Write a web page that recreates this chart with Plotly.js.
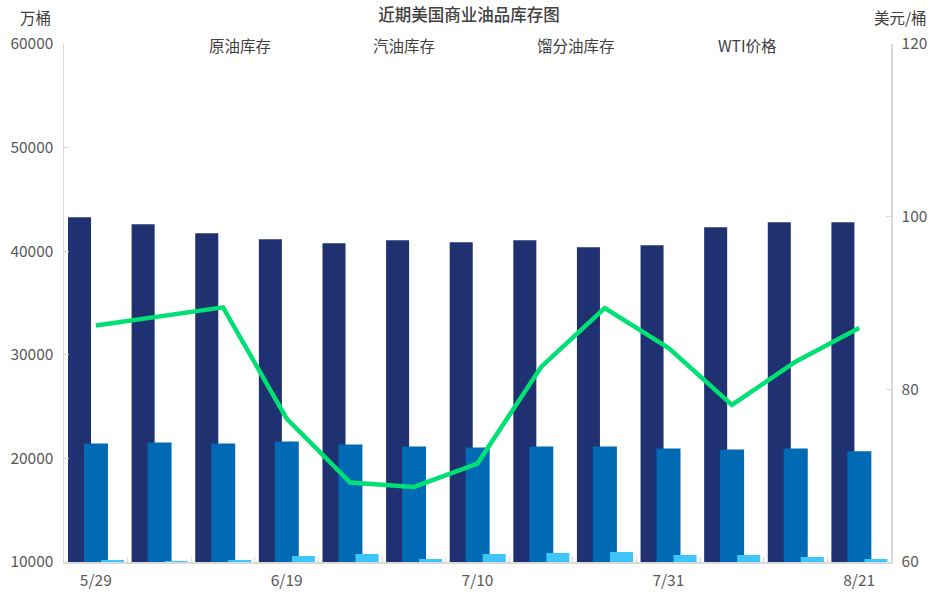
<!DOCTYPE html>
<html>
<head>
<meta charset="utf-8">
<script src="https://cdn.plot.ly/plotly-3.0.1.min.js"></script>
<style>
  html, body { margin: 0; padding: 0; background: #fff; }
  #chart { width: 937px; height: 601px; }
</style>
</head>
<body>
<div id="chart"></div>
<script>
  // weekly dates
  const dates = ['5/29', '6/5', '6/12', '6/19', '6/26', '7/3', '7/10', '7/17', '7/24', '7/31', '8/7', '8/14', '8/21'];
  const dateLabels = ['5/29', '', '', '6/19', '', '', '7/10', '', '', '7/31', '', '', '8/21'];

  // 万桶
  const crude = [43280, 42600, 41740, 41160, 40770, 41060, 40870, 41060, 40390, 40580, 42310, 42800, 42800];
  const gasoline = [21450, 21540, 21450, 21640, 21350, 21160, 21060, 21160, 21160, 20960, 20870, 20960, 20680];
  const distillate = [10190, 10100, 10190, 10580, 10770, 10290, 10770, 10870, 10960, 10680, 10680, 10480, 10290];

  // 美元/桶
  const wti = [87.4, 88.4, 89.5, 76.6, 69.2, 68.7, 71.4, 82.6, 89.4, 84.8, 78.2, 83.2, 87.1];

  const seriesNames = ['原油库存', '汽油库存', '馏分油库存', 'WTI价格'];

  const FONT = '"Noto Sans CJK SC", "Noto Sans", sans-serif';
  const plotL = 64, plotR = 891, plotT = 44, plotB = 562;
  const px = x => (x - plotL) / (plotR - plotL);
  const py = y => (plotB - y) / (plotB - plotT);

  const traces = [
    {type: 'bar', x: dates, y: crude, name: seriesNames[0], offset: -0.437, width: 0.362,
     marker: {color: '#1F3170'}},
    {type: 'bar', x: dates, y: gasoline, name: seriesNames[1], offset: -0.186, width: 0.377,
     marker: {color: '#006BB4'}},
    {type: 'bar', x: dates, y: distillate, name: seriesNames[2], offset: 0.082, width: 0.362,
     marker: {color: '#3EC5FB'}},
    {type: 'scatter', mode: 'lines', x: dates, y: wti, name: seriesNames[3], yaxis: 'y2',
     line: {color: '#00E074', width: 4.5}}
  ];

  const legendX = [240, 404, 576, 747];
  const annotations = seriesNames.map((n, i) => ({
    text: n, xref: 'paper', yref: 'paper', x: px(legendX[i]), y: py(45),
    showarrow: false, xanchor: 'center', yanchor: 'middle',
    font: {family: FONT, size: 15.5, color: '#404040'}
  }));
  annotations.push({text: '万桶', xref: 'paper', yref: 'paper', x: px(35), y: py(17),
    showarrow: false, xanchor: 'center', yanchor: 'middle',
    font: {family: FONT, size: 15.5, color: '#404040'}});
  annotations.push({text: '美元/桶', xref: 'paper', yref: 'paper', x: px(900), y: py(17),
    showarrow: false, xanchor: 'center', yanchor: 'middle',
    font: {family: FONT, size: 15.5, color: '#404040'}});

  const layout = {
    width: 937, height: 601,
    margin: {l: plotL, r: 937 - plotR, t: plotT, b: 601 - plotB, pad: 0},
    paper_bgcolor: '#fff', plot_bgcolor: '#fff',
    barmode: 'overlay',
    showlegend: false,
    title: {text: '近期美国商业油品库存图', x: 469 / 937, xref: 'container', xanchor: 'center',
      y: 1 - 15 / 601, yref: 'container', yanchor: 'middle',
      font: {family: FONT, size: 16.5, color: '#404040', weight: 500}},
    font: {family: FONT, size: 15.5, color: '#595959'},
    xaxis: {
      type: 'category', range: [-0.5, 12.5],
      tickvals: dates, ticktext: dateLabels, tickson: 'boundaries',
      ticks: 'inside', ticklen: 5, tickcolor: '#D9D9D9',
      showline: true, linecolor: '#D9D9D9', linewidth: 1.5,
      showgrid: false, zeroline: false, ticklabelstandoff: 4,
      tickfont: {family: FONT, size: 15.5, color: '#595959'}
    },
    yaxis: {
      range: [10000, 60000], dtick: 10000, tickformat: 'd',
      ticks: 'inside', ticklen: 5, tickcolor: '#D9D9D9',
      showline: true, linecolor: '#D9D9D9', linewidth: 1.5,
      showgrid: false, zeroline: false, ticklabelstandoff: 6,
      tickfont: {family: FONT, size: 15.5, color: '#595959'}
    },
    yaxis2: {
      overlaying: 'y', side: 'right', range: [60, 120], dtick: 20,
      ticks: 'inside', ticklen: 5, tickcolor: '#D9D9D9',
      showline: true, linecolor: '#D9D9D9', linewidth: 1.5,
      showgrid: false, zeroline: false, ticklabelstandoff: 6,
      tickfont: {family: FONT, size: 15.5, color: '#595959'}
    },
    annotations: annotations
  };

  Plotly.newPlot('chart', traces, layout, {displayModeBar: false, staticPlot: true});
</script>
</body>
</html>
